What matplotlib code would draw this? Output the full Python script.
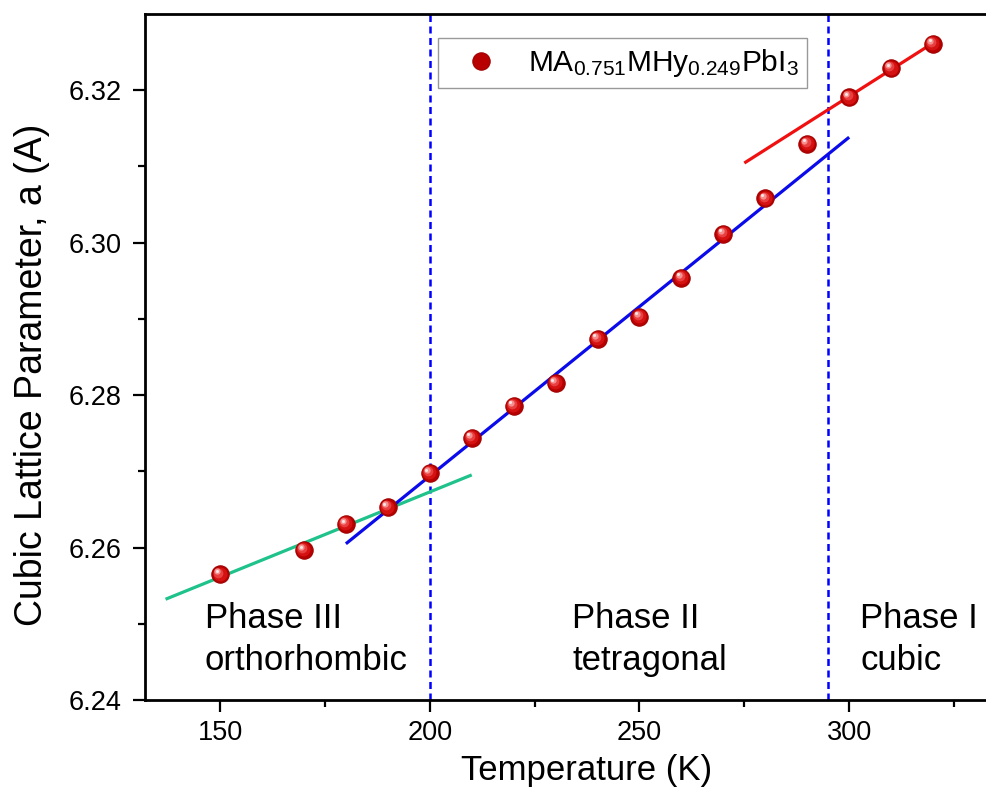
import numpy as np
import matplotlib
matplotlib.use("Agg")
import matplotlib.pyplot as plt
from matplotlib import transforms

plt.rcParams['font.family'] = ['Liberation Sans', 'DejaVu Sans']
plt.rcParams['mathtext.fontset'] = 'custom'
plt.rcParams['mathtext.rm'] = 'Liberation Sans'
plt.rcParams['mathtext.it'] = 'Liberation Sans'
plt.rcParams['mathtext.default'] = 'regular'

# Measured lattice parameter vs temperature
temperature = [150, 170, 180, 190, 200, 210, 220, 230, 240, 250,
               260, 270, 280, 290, 300, 310, 320]
lattice_a = [6.2565, 6.2597, 6.2631, 6.2653, 6.2698, 6.2744, 6.2786, 6.2816,
             6.2874, 6.2903, 6.2954, 6.3012, 6.3058, 6.3130, 6.3191, 6.3229, 6.3261]

# Linear fits per phase: (T range used for the fit, T range drawn, colour)
fit_phase3 = ((150, 190), (137, 210), '#1ec28a')
fit_phase2 = ((200, 280), (180, 300), '#0a0aea')
fit_phase1 = ((300, 320), (275, 320), '#f01010')

# Phase boundaries
transitions = [200, 295]
phase_labels = ["Phase III\northorhombic", "Phase II\ntetragonal", "Phase I\ncubic"]
phase_label_x = [146.4, 234.0, 302.6]

series_label = r'MA$_{0.751}$MHy$_{0.249}$PbI$_3$'

T = np.array(temperature)
A = np.array(lattice_a)

W, H = 987, 794
PX_PER_K = 4.194
ax_left, ax_bottom, ax_top, ax_right = 145, 700, 14, 1029

fig = plt.figure(figsize=(W / 100, H / 100), dpi=100)
ax = fig.add_axes([ax_left / W, (H - ax_bottom) / H,
                   (ax_right - ax_left) / W, (ax_bottom - ax_top) / H])
ax.set_xlim(132.1, 132.1 + (ax_right - ax_left) / PX_PER_K)
ax.set_ylim(6.24, 6.33)

for tr in transitions:
    ax.axvline(tr, color='#0000ff', lw=1.8, ls=(0, (2.8, 1.8)), zorder=1)

for (lo, hi), (x0, x1), col in (fit_phase3, fit_phase2, fit_phase1):
    m = (T >= lo) & (T <= hi)
    k, b = np.polyfit(T[m], A[m], 1)
    xs = np.array([x0, x1])
    ax.plot(xs, k * xs + b, color=col, lw=2.3, zorder=2, solid_capstyle='butt')

# Shaded spheres: dark base plus lighter highlights offset toward upper left
base, = ax.plot(T, A, ls='none', marker='o', ms=12.5, mfc='#b80000',
                mec='#a00000', mew=0.8, zorder=3, label=series_label)
shades = [(10.0, '#d41212', -0.4, 0.4),
          (7.0, '#e84040', -1.2, 1.2),
          (4.5, '#f49090', -2.0, 2.0),
          (2.2, '#ffe4e4', -2.4, 2.4)]
for ms, col, dx, dy in shades:
    tf = transforms.offset_copy(ax.transData, fig=fig, x=dx, y=dy, units='points')
    ax.plot(T, A, ls='none', marker='o', ms=ms, mfc=col, mec='none',
            transform=tf, zorder=4)

# Two-line phase annotations, one text per line on fixed baselines
line_y = [6.2494, 6.2439]
for lab, x in zip(phase_labels, phase_label_x):
    for line, y in zip(lab.split('\n'), line_y):
        ax.text(x, y, line, fontsize=25, ha='left', va='baseline')

ax_w = ax_right - ax_left
leg = ax.legend(handles=[base], loc='upper left',
                bbox_to_anchor=((438 - ax_left) / ax_w, (ax_bottom - 38) / (ax_bottom - ax_top)),
                fontsize=21.5, frameon=True, fancybox=False, borderpad=0.3,
                handletextpad=0.4, handlelength=2.3, borderaxespad=0)
leg.get_frame().set_edgecolor('#808080')
leg.get_frame().set_linewidth(1.0)

ax.set_xticks([150, 200, 250, 300])
ax.set_xticks([175, 225, 275, 325], minor=True)
ax.set_yticks([6.24, 6.26, 6.28, 6.30, 6.32])
ax.set_yticks([6.25, 6.27, 6.29, 6.31], minor=True)
ax.set_yticklabels(['6.24', '6.26', '6.28', '6.30', '6.32'])
ax.tick_params(which='major', direction='out', length=8.5, width=1.6, labelsize=19.5)
ax.tick_params(axis='x', which='major', pad=6)
ax.tick_params(axis='y', which='major', pad=8.5)
ax.tick_params(which='minor', direction='out', length=5, width=1.6)
ax.tick_params(top=False, right=False, which='both')

for s in ['left', 'bottom', 'top']:
    ax.spines[s].set_linewidth(2.0)
ax.spines['right'].set_visible(False)

ax.set_xlabel('Temperature (K)', fontsize=25)
ax.xaxis.set_label_coords(0.5, -(754 - ax_bottom) / (ax_bottom - ax_top))
ax.set_ylabel('Cubic Lattice Parameter, a (A)', fontsize=27)
ax.yaxis.set_label_coords(-(ax_left - 50) / ax_w, (ax_bottom - 375) / (ax_bottom - ax_top))

fig.savefig('out.png', dpi=100)
